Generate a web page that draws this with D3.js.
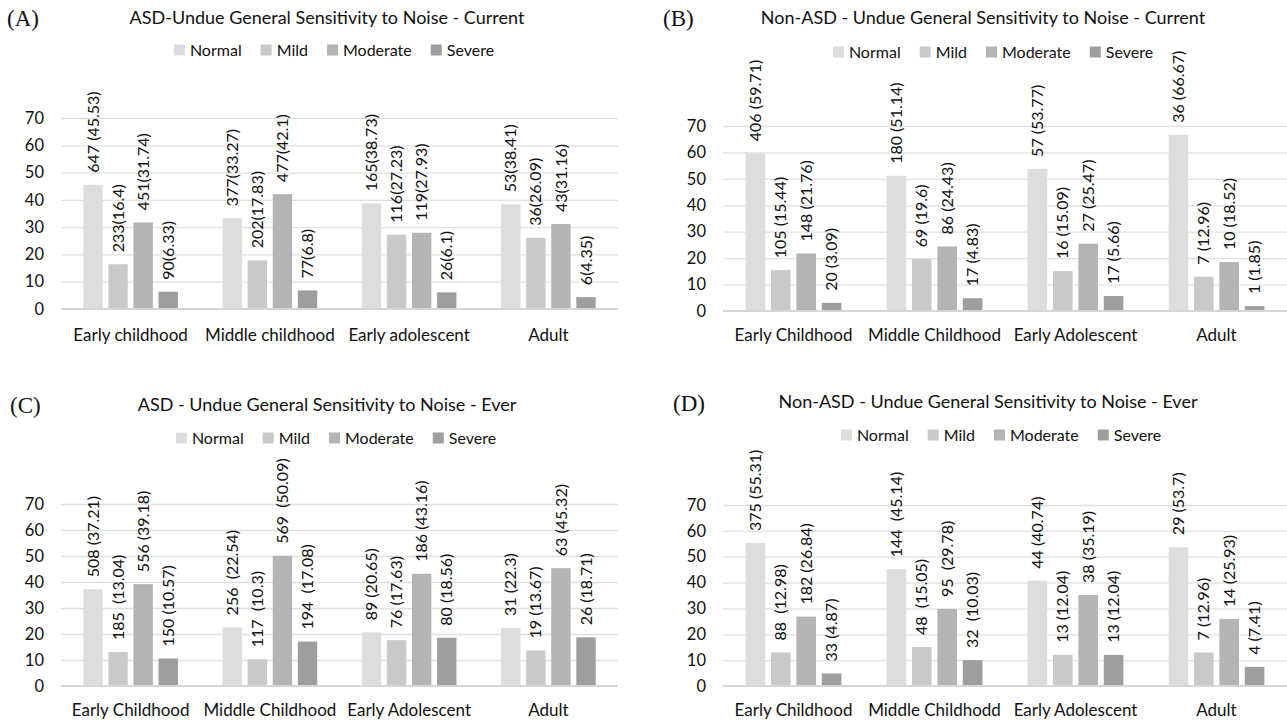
<!DOCTYPE html>
<html>
<head>
<meta charset="utf-8">
<script src="https://cdn.jsdelivr.net/npm/d3@7"></script>
<style>
  body { margin: 0; background: #fff; }
  text { font-family: Lato, "Open Sans", sans-serif; fill: #111; }
  .letter { font-family: "Liberation Serif", "DejaVu Serif", serif; }
</style>
</head>
<body>
<div id="wrapper"></div>
<script>
// shared
const seriesNames = ["Normal", "Mild", "Moderate", "Severe"];
const seriesColors = ["#dcdddc", "#c8c9c8", "#b3b4b3", "#9d9e9d"];
const yTicks = [0, 10, 20, 30, 40, 50, 60, 70];

// (A) ASD - current
const categoriesA = ["Early childhood", "Middle childhood", "Early adolescent", "Adult"];
const normalA = [45.53, 33.27, 38.73, 38.41];
const mildA = [16.4, 17.83, 27.23, 26.09];
const moderateA = [31.74, 42.1, 27.93, 31.16];
const severeA = [6.33, 6.8, 6.1, 4.35];
const normalTextA = ["647 (45.53)", "377(33.27)", "165(38.73)", "53(38.41)"];
const mildTextA = ["233(16.4)", "202(17.83)", "116(27.23)", "36(26.09)"];
const moderateTextA = ["451(31.74)", "477(42.1)", "119(27.93)", "43(31.16)"];
const severeTextA = ["90(6.33)", "77(6.8)", "26(6.1)", "6(4.35)"];

// (B) Non-ASD - current
const categoriesB = ["Early Childhood", "Middle Childhood", "Early Adolescent", "Adult"];
const normalB = [59.71, 51.14, 53.77, 66.67];
const mildB = [15.44, 19.6, 15.09, 12.96];
const moderateB = [21.76, 24.43, 25.47, 18.52];
const severeB = [3.09, 4.83, 5.66, 1.85];
const normalTextB = ["406 (59.71)", "180 (51.14)", "57 (53.77)", "36 (66.67)"];
const mildTextB = ["105 (15.44)", "69 (19.6)", "16 (15.09)", "7 (12.96)"];
const moderateTextB = ["148 (21.76)", "86 (24.43)", "27 (25.47)", "10 (18.52)"];
const severeTextB = ["20 (3.09)", "17 (4.83)", "17 (5.66)", "1 (1.85)"];

// (C) ASD - ever
const categoriesC = ["Early Childhood", "Middle Childhood", "Early Adolescent", "Adult"];
const normalC = [37.21, 22.54, 20.65, 22.3];
const mildC = [13.04, 10.3, 17.63, 13.67];
const moderateC = [39.18, 50.09, 43.16, 45.32];
const severeC = [10.57, 17.08, 18.56, 18.71];
const normalTextC = ["508 (37.21)", "256  (22.54)", "89 (20.65)", "31 (22.3)"];
const mildTextC = ["185  (13.04)", "117  (10.3)", "76 (17.63)", "19 (13.67)"];
const moderateTextC = ["556 (39.18)", "569  (50.09)", "186 (43.16)", "63 (45.32)"];
const severeTextC = ["150 (10.57)", "194  (17.08)", "80 (18.56)", "26 (18.71)"];

// (D) Non-ASD - ever
const categoriesD = ["Early Childhood", "Middle Childhodd", "Early Adolescent", "Adult"];
const normalD = [55.31, 45.14, 40.74, 53.7];
const mildD = [12.98, 15.05, 12.04, 12.96];
const moderateD = [26.84, 29.78, 35.19, 25.93];
const severeD = [4.87, 10.03, 12.04, 7.41];
const normalTextD = ["375 (55.31)", "144  (45.14)", "44 (40.74)", "29 (53.7)"];
const mildTextD = ["88  (12.98)", "48  (15.05)", "13 (12.04)", "7 (12.96)"];
const moderateTextD = ["182 (26.84)", "95  (29.78)", "38 (35.19)", "14 (25.93)"];
const severeTextD = ["33 (4.87)", "32  (10.03)", "13 (12.04)", "4 (7.41)"];

const svg = d3.select("#wrapper").append("svg")
  .attr("width", 1287)
  .attr("height", 722);

function drawPanel(p) {
  const g = svg.append("g");

  const xScale = d3.scaleBand()
    .domain(p.categories)
    .range([p.left, p.right]);
  const innerScale = d3.scaleBand()
    .domain(seriesNames)
    .range([0, xScale.bandwidth()])
    .paddingInner(0.228)
    .paddingOuter(0.889);
  const yScale = d3.scaleLinear()
    .domain([0, 70])
    .range([p.y0, p.y70]);

  // gridlines
  g.append("g")
    .attr("transform", `translate(${p.left},0)`)
    .call(d3.axisLeft(yScale).tickValues(yTicks.slice(1)).tickSize(-(p.right - p.left)).tickFormat(""))
    .call(a => a.select(".domain").remove())
    .call(a => a.selectAll("line").attr("stroke", "#e0e0e0").attr("stroke-width", 1.3));

  // y tick labels
  g.append("g")
    .attr("transform", `translate(${p.left},0)`)
    .call(d3.axisLeft(yScale).tickValues(yTicks).tickSize(0).tickPadding(17))
    .call(a => a.select(".domain").remove())
    .call(a => a.selectAll("text").style("font-size", "16.5px").attr("fill", "#111"));

  const rows = [];
  p.series.forEach((vals, si) => {
    vals.forEach((v, ci) => {
      rows.push({ cat: p.categories[ci], s: seriesNames[si], si: si, v: v, text: p.texts[si][ci] });
    });
  });

  g.selectAll("rect.bar")
    .data(rows)
    .enter()
    .append("rect")
    .attr("class", "bar")
    .attr("x", d => xScale(d.cat) + innerScale(d.s))
    .attr("y", d => yScale(d.v))
    .attr("width", innerScale.bandwidth())
    .attr("height", d => yScale(0) - yScale(d.v))
    .attr("fill", d => seriesColors[d.si]);

  // zero line
  g.append("line")
    .attr("x1", p.left).attr("x2", p.right)
    .attr("y1", yScale(0)).attr("y2", yScale(0))
    .attr("stroke", "#d6d6d6").attr("stroke-width", 2);

  g.selectAll("text.lbl")
    .data(rows)
    .enter()
    .append("text")
    .attr("class", "lbl")
    .attr("transform", d => `translate(${xScale(d.cat) + innerScale(d.s) + innerScale.bandwidth() / 2},${yScale(d.v) - 12}) rotate(-90)`)
    .attr("dy", "0.35em")
    .style("font-size", "16px")
    .style("white-space", "pre")
    .attr("xml:space", "preserve")
    .text(d => d.text);

  // category labels
  g.selectAll("text.cat")
    .data(p.categories)
    .enter()
    .append("text")
    .attr("class", "cat")
    .attr("x", d => xScale(d) + xScale.bandwidth() / 2)
    .attr("y", p.catY)
    .attr("dy", "0.35em")
    .attr("text-anchor", "middle")
    .style("font-size", "17px")
    .text(d => d);

  // title
  g.append("text")
    .attr("x", p.titleX).attr("y", p.titleY)
    .attr("dy", "0.35em")
    .attr("text-anchor", "middle")
    .style("font-size", "18px")
    .text(p.title);

  g.append("text")
    .attr("class", "letter")
    .attr("x", p.letterX).attr("y", p.letterY)
    .attr("dy", "0.35em")
    .style("font-size", "23px")
    .text(p.letter);

  // legend
  const leg = g.append("g");
  let cx = 0;
  seriesNames.forEach((name, i) => {
    const item = leg.append("g").attr("transform", `translate(${cx},0)`);
    item.append("rect").attr("x", 0).attr("y", -5.5).attr("width", 11).attr("height", 11).attr("fill", seriesColors[i]);
    const t = item.append("text").attr("x", 16).attr("dy", "0.35em").style("font-size", "16px").text(name);
    cx += 16 + t.node().getComputedTextLength() + 19;
  });
  const legW = cx - 19;
  leg.attr("transform", `translate(${p.legendX - legW / 2},${p.legendY})`);
}

drawPanel({
  letter: "(A)", title: "ASD-Undue General Sensitivity to Noise - Current",
  categories: categoriesA,
  series: [normalA, mildA, moderateA, severeA],
  texts: [normalTextA, mildTextA, moderateTextA, severeTextA],
  left: 61, right: 618, y0: 309, y70: 118, catY: 335,
  titleX: 327, titleY: 18, legendX: 334, legendY: 50, letterX: 7, letterY: 18
});
drawPanel({
  letter: "(B)", title: "Non-ASD - Undue General Sensitivity to Noise - Current",
  categories: categoriesB,
  series: [normalB, mildB, moderateB, severeB],
  texts: [normalTextB, mildTextB, moderateTextB, severeTextB],
  left: 723, right: 1287, y0: 311, y70: 126, catY: 335,
  titleX: 983, titleY: 18, legendX: 993, legendY: 52, letterX: 663, letterY: 18
});
drawPanel({
  letter: "(C)", title: "ASD - Undue General Sensitivity to Noise - Ever",
  categories: categoriesC,
  series: [normalC, mildC, moderateC, severeC],
  texts: [normalTextC, mildTextC, moderateTextC, severeTextC],
  left: 61, right: 618, y0: 686, y70: 504, catY: 710,
  titleX: 327, titleY: 405, legendX: 336, legendY: 438, letterX: 10, letterY: 405
});
drawPanel({
  letter: "(D)", title: "Non-ASD - Undue General Sensitivity to Noise - Ever",
  categories: categoriesD,
  series: [normalD, mildD, moderateD, severeD],
  texts: [normalTextD, mildTextD, moderateTextD, severeTextD],
  left: 723, right: 1287, y0: 686, y70: 505, catY: 710,
  titleX: 988, titleY: 402, legendX: 1001, legendY: 435, letterX: 673, letterY: 403
});
</script>
</body>
</html>
